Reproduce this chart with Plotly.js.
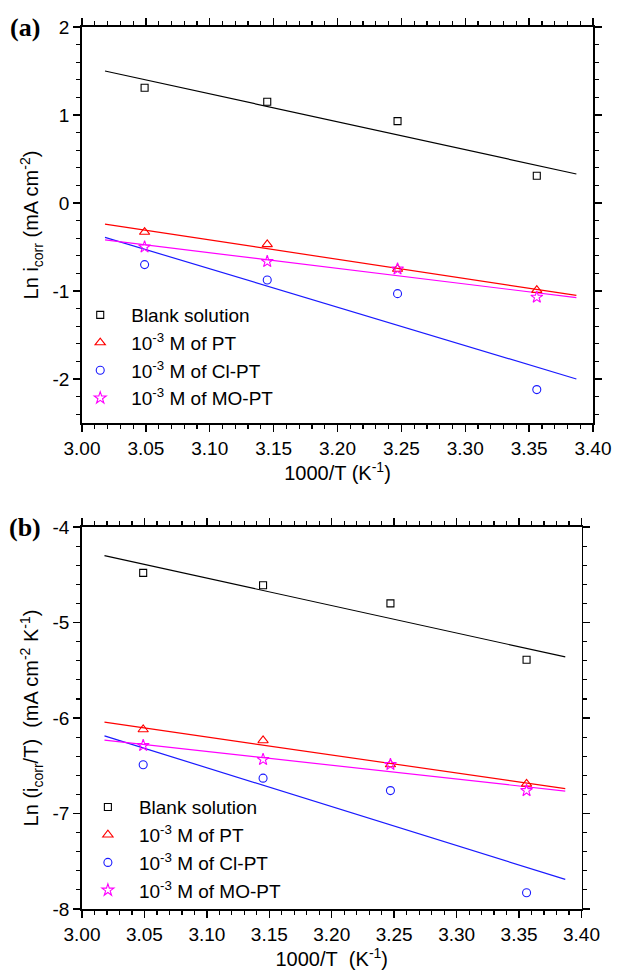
<!DOCTYPE html>
<html>
<head>
<meta charset="utf-8">
<script src="https://cdn.plot.ly/plotly-3.0.1.min.js"></script>
<style>html,body{margin:0;padding:0;background:#fff;}#chart{width:632px;height:971px;}</style>
</head>
<body>
<div id="chart"></div>
<script>
// 1000/T values (K^-1)
const invT = [3.049, 3.145, 3.247, 3.356];
// fit line x endpoints
const fitX = [3.018, 3.387];

const seriesNames = ['Blank solution', '10<sup>-3</sup> M of PT', '10<sup>-3</sup> M of Cl-PT', '10<sup>-3</sup> M of MO-PT'];

// Panel (a): Ln i_corr
const aBlank = [1.31, 1.15, 0.93, 0.31];
const aPT    = [-0.33, -0.47, -0.75, -0.99];
const aCl    = [-0.70, -0.875, -1.03, -2.12];
const aMO    = [-0.50, -0.665, -0.75, -1.07];
const aBlankFit = [1.50, 0.33];
const aPTFit    = [-0.24, -1.05];
const aClFit    = [-0.39, -2.00];
const aMOFit    = [-0.42, -1.075];

// Panel (b): Ln (i_corr/T)
const bBlank = [-4.48, -4.61, -4.80, -5.39];
const bPT    = [-6.12, -6.235, -6.487, -6.69];
const bCl    = [-6.49, -6.63, -6.76, -7.83];
const bMO    = [-6.288, -6.434, -6.487, -6.76];
const bBlankFit = [-4.30, -5.36];
const bPTFit    = [-6.044, -6.74];
const bClFit    = [-6.187, -7.69];
const bMOFit    = [-6.232, -6.765];

// tick labels
const aYTickVals = [-2, -1, 0, 1, 2];
const aYTickText = ['-2', '-1', '0', '1', '2'];
const bYTickVals = [-8, -7, -6, -5, -4];
const bYTickText = ['-8', '-7', '-6', '-5', '-4'];

const colors = ['#000000', '#ff0000', '#1a1aff', '#ff00ff'];
const symbols = ['square-open', 'triangle-up-open', 'circle-open', 'star-open'];
const sizes = [7, 9, 8, 9];

const font = 'Liberation Sans, Arial, sans-serif';
const traces = [];

function addPanel(pts, fits, xa, ya, leg) {
  for (let i = 0; i < 4; i++) {
    traces.push({x: fitX, y: fits[i], xaxis: xa, yaxis: ya, mode: 'lines',
      line: {color: colors[i], width: 1.2}, showlegend: false, hoverinfo: 'skip'});
  }
  for (let i = 0; i < 4; i++) {
    traces.push({x: invT, y: pts[i], xaxis: xa, yaxis: ya, mode: 'markers', name: seriesNames[i],
      legend: leg,
      marker: {symbol: symbols[i], size: sizes[i], color: colors[i], line: {color: colors[i], width: 1.1}}});
  }
}
addPanel([aBlank, aPT, aCl, aMO], [aBlankFit, aPTFit, aClFit, aMOFit], 'x', 'y', 'legend');
addPanel([bBlank, bPT, bCl, bMO], [bBlankFit, bPTFit, bClFit, bMOFit], 'x2', 'y2', 'legend2');

const axCommon = {
  showline: true, linecolor: '#000', linewidth: 1.8, mirror: 'ticks',
  ticks: 'outside', ticklen: 7, tickwidth: 1.4, tickcolor: '#000',
  showgrid: false, zeroline: false,
  tickfont: {family: font, size: 19, color: '#000'},
};
function xAx(domain, anchor, title) {
  return Object.assign({}, axCommon, {
    domain: domain, anchor: anchor, range: [3.0, 3.4], dtick: 0.05, tick0: 3.0, tickformat: '.2f',
    minor: {dtick: 0.01, ticklen: 4, tickwidth: 1.2, tickcolor: '#000', ticks: 'outside'},
    title: {text: title, font: {family: font, size: 20, color: '#000'}, standoff: 4}
  });
}
function yAx(domain, anchor, range, tv, tt, title) {
  return Object.assign({}, axCommon, {
    domain: domain, anchor: anchor, range: range, tickmode: 'array', tickvals: tv, ticktext: tt,
    minor: {dtick: 0.2, tick0: 0, ticklen: 4, tickwidth: 1.2, tickcolor: '#000', ticks: 'outside'},
    title: {text: title, font: {family: font, size: 20, color: '#000'}, standoff: 8}
  });
}

const legendFont = {family: font, size: 19, color: '#000'};
const layout = {
  width: 632, height: 971,
  margin: {l: 82, r: 39, t: 27, b: 62},
  paper_bgcolor: '#fff', plot_bgcolor: '#fff',
  font: {family: font, color: '#000'},
  xaxis: xAx([0, 1], 'y', '1000/T (K<sup>-1</sup>)'),
  yaxis: yAx([0.551, 1], 'x', [-2.5, 2], aYTickVals, aYTickText, 'Ln i<sub>corr</sub> (mA cm<sup>-2</sup>)'),
  xaxis2: xAx([0, 0.9775], 'y2', '1000/T&nbsp; (K<sup>-1</sup>)'),
  yaxis2: yAx([0, 0.4331], 'x2', [-8, -4], bYTickVals, bYTickText, 'Ln (i<sub>corr</sub>/T)&nbsp; (mA cm<sup>-2</sup> K<sup>-1</sup>)'),
  legend: {x: -0.025, y: 0.695, xanchor: 'left', yanchor: 'top', bgcolor: 'rgba(0,0,0,0)',
    font: legendFont, tracegroupgap: 0, itemsizing: 'trace', itemwidth: 52},
  legend2: {x: -0.01, y: 0.137, xanchor: 'left', yanchor: 'top', bgcolor: 'rgba(0,0,0,0)',
    font: legendFont, tracegroupgap: 0, itemsizing: 'trace', itemwidth: 52},
  annotations: [
    {text: '<b>(a)</b>', xref: 'paper', yref: 'paper', x: -0.112, y: 1, xanchor: 'center', yanchor: 'middle',
      showarrow: false, font: {family: 'Liberation Serif, Times New Roman, serif', size: 26, color: '#000'}},
    {text: '<b>(b)</b>', xref: 'paper', yref: 'paper', x: -0.112, y: 0.4331, xanchor: 'center', yanchor: 'middle',
      showarrow: false, font: {family: 'Liberation Serif, Times New Roman, serif', size: 26, color: '#000'}}
  ]
};

Plotly.newPlot('chart', traces, layout, {staticPlot: true, displayModeBar: false});
</script>
</body>
</html>
